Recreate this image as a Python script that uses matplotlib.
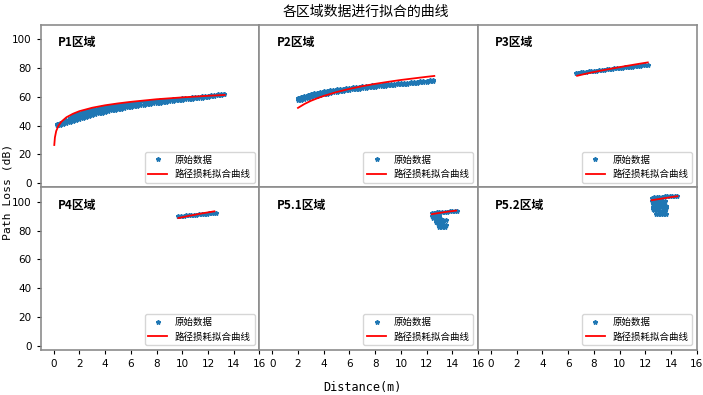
import matplotlib
matplotlib.use("Agg")
import matplotlib.pyplot as plt

cjk = ['Noto Sans CJK SC', 'DejaVu Sans']
mono = ['DejaVu Sans Mono', 'Noto Sans CJK SC']

# region names
regions = ['P1区域', 'P2区域', 'P3区域', 'P4区域', 'P5.1区域', 'P5.2区域']

# P1 measured data: upper and lower edge of the dense band, plus a middle row where it is wide
p1_dist = [0.25, 0.5, 0.75, 1.0, 1.25, 1.5, 1.75, 2.0, 2.25, 2.5, 2.75, 3.0, 3.25, 3.5, 3.75, 4.0,
           4.25, 4.5, 4.75, 5.0, 5.25, 5.5, 5.75, 6.0, 6.25, 6.5, 6.75, 7.0, 7.25, 7.5, 7.75, 8.0,
           8.25, 8.5, 8.75, 9.0, 9.25, 9.5, 9.75, 10.0, 10.25, 10.5, 10.75, 11.0, 11.25, 11.5, 11.75,
           12.0, 12.25, 12.5, 12.75, 13.0, 13.25]
p1_loss_hi = [41.2, 41.9, 42.8, 44.0, 45.4, 46.8, 47.9, 48.8, 49.5, 50.2, 50.8, 51.3, 51.8, 52.2, 52.6, 53.0,
              53.4, 53.7, 54.0, 54.3, 54.6, 54.9, 55.2, 55.4, 55.7, 55.9, 56.1, 56.4, 56.6, 56.8, 57.0, 57.3,
              57.5, 57.7, 57.9, 58.1, 58.3, 58.5, 58.8, 59.0, 59.2, 59.4, 59.6, 59.9, 60.1, 60.3, 60.6,
              60.9, 61.1, 61.4, 61.7, 61.9, 62.2]
p1_loss_lo = [40.4, 40.7, 41.1, 41.6, 42.2, 42.9, 43.7, 44.5, 45.3, 46.0, 46.7, 47.3, 47.9, 48.5, 49.0, 49.5,
              50.0, 50.5, 51.0, 51.4, 51.8, 52.2, 52.6, 53.0, 53.4, 53.8, 54.1, 54.5, 54.8, 55.1, 55.4, 55.7,
              56.0, 56.3, 56.6, 56.9, 57.2, 57.5, 57.8, 58.0, 58.3, 58.5, 58.8, 59.0, 59.3, 59.5, 59.8,
              60.0, 60.3, 60.6, 61.0, 61.4, 61.8]
p1_mid_dist = [1.0, 1.25, 1.5, 1.75, 2.0, 2.25, 2.5, 2.75, 3.0, 3.25, 3.5, 3.75, 4.0, 4.25, 4.5, 4.75,
               5.0, 5.25, 5.5, 5.75, 6.0]
p1_mid_loss = [42.8, 43.8, 44.8, 45.8, 46.6, 47.4, 48.1, 48.7, 49.3, 49.8, 50.3, 50.8, 51.2, 51.7, 52.1, 52.5,
               52.8, 53.2, 53.5, 53.9, 54.2]
p1_fit_dist = [0.05, 0.1, 0.2, 0.36, 0.6, 1.0, 1.5, 2, 3, 4, 5, 6, 8, 10, 12, 13.3]
p1_fit_loss = [26.5, 31.8, 36.2, 39.6, 42.7, 45.8, 48.2, 50.0, 52.4, 54.1, 55.4, 56.5, 58.3, 59.6, 60.7, 61.3]

# P2
p2_dist = [2.0, 2.25, 2.5, 2.75, 3.0, 3.25, 3.5, 3.75, 4.0, 4.25, 4.5, 4.75, 5.0, 5.25, 5.5, 5.75,
           6.0, 6.25, 6.5, 6.75, 7.0, 7.25, 7.5, 7.75, 8.0, 8.25, 8.5, 8.75, 9.0, 9.25, 9.5, 9.75,
           10.0, 10.25, 10.5, 10.75, 11.0, 11.25, 11.5, 11.75, 12.0, 12.25, 12.5]
p2_loss_hi = [59.5, 60.2, 60.8, 61.4, 61.9, 62.4, 62.9, 63.3, 63.7, 64.1, 64.5, 64.8, 65.1, 65.4, 65.7, 66.0,
              66.3, 66.6, 66.8, 67.1, 67.3, 67.5, 67.7, 67.9, 68.1, 68.3, 68.5, 68.7, 68.9, 69.0, 69.2, 69.4,
              69.5, 69.7, 69.9, 70.1, 70.3, 70.5, 70.8, 71.0, 71.3, 71.6, 71.9]
p2_loss_lo = [57.5, 58.1, 58.7, 59.3, 59.8, 60.3, 60.8, 61.3, 61.7, 62.1, 62.6, 63.0, 63.4, 63.8, 64.1, 64.5,
              64.8, 65.1, 65.4, 65.7, 66.0, 66.3, 66.6, 66.8, 67.1, 67.3, 67.5, 67.8, 68.0, 68.2, 68.4, 68.6,
              68.8, 69.0, 69.2, 69.4, 69.6, 69.8, 70.0, 70.3, 70.5, 70.8, 71.1]
p2_fit_dist = [2.0, 2.5, 3, 3.5, 4, 5, 6, 7, 8, 9, 10, 11, 12, 12.6]
p2_fit_loss = [52.3, 55.0, 57.2, 59.0, 60.6, 63.3, 65.5, 67.4, 69.0, 70.4, 71.7, 72.8, 73.9, 74.5]

# P3
p3_dist = [6.6, 6.8, 7.0, 7.2, 7.4, 7.6, 7.8, 8.0, 8.2, 8.4, 8.6, 8.8, 9.0, 9.2, 9.4, 9.6, 9.8, 10.0,
           10.2, 10.4, 10.6, 10.8, 11.0, 11.2, 11.4, 11.6, 11.8, 12.0, 12.2]
p3_loss = [76.4, 76.7, 76.9, 77.2, 77.4, 77.6, 77.8, 78.0, 78.2, 78.5, 78.7, 78.9, 79.1, 79.3, 79.5, 79.7, 79.9, 80.0,
           80.2, 80.4, 80.6, 80.8, 81.0, 81.2, 81.4, 81.6, 81.8, 82.0, 82.2]
p3_fit_dist = [6.7, 7.5, 8.5, 9.5, 10.5, 11.5, 12.2]
p3_fit_loss = [74.6, 76.3, 78.1, 79.8, 81.4, 82.9, 83.9]

# P4
p4_dist = [9.7, 9.9, 10.1, 10.3, 10.5, 10.7, 10.9, 11.1, 11.3, 11.5, 11.7, 11.9, 12.1, 12.3, 12.5, 12.6]
p4_loss = [90.0, 90.2, 90.3, 90.5, 90.6, 90.8, 91.0, 91.1, 91.3, 91.5, 91.6, 91.8, 91.9, 92.1, 92.2, 92.3]
p4_fit_dist = [9.7, 10.5, 11.5, 12.5]
p4_fit_loss = [88.7, 90.2, 91.9, 93.4]

# P5.1
p51_dist = [12.4, 12.6, 12.8, 13.0, 13.2, 13.4, 13.6, 13.8, 14.0, 14.2, 14.4,
            12.4, 12.6, 12.8, 13.0,
            12.5, 12.7, 12.9, 13.1, 13.3, 13.5,
            12.7, 12.9, 13.1, 13.3,
            12.9, 13.1, 13.3, 13.5,
            13.0, 13.2, 13.4]
p51_loss = [92.4, 92.5, 92.6, 92.8, 92.9, 93.0, 93.2, 93.3, 93.4, 93.6, 93.7,
            90.4, 90.2, 90.0, 89.8,
            88.4, 88.2, 88.0, 87.8, 87.6, 87.4,
            86.3, 86.1, 85.9, 85.7,
            84.4, 84.2, 84.0, 83.8,
            82.7, 82.5, 82.3]
p51_fit_dist = [12.4, 13.0, 13.6, 14.3]
p51_fit_loss = [91.4, 92.3, 93.1, 93.9]

# P5.2
p52_dist = [12.5, 12.7, 12.9, 13.1, 13.3, 13.5, 13.7, 13.9, 14.1, 14.3, 14.5,
            12.5, 12.7, 12.9, 13.1, 13.3, 13.5,
            12.6, 12.8, 13.0, 13.2, 13.4,
            12.6, 12.8, 13.0, 13.2, 13.4, 13.6,
            12.7, 12.9, 13.1, 13.3, 13.5,
            12.8, 13.0, 13.2, 13.4, 13.6,
            12.6, 12.6, 13.6]
p52_loss = [102.8, 103.0, 103.2, 103.4, 103.5, 103.7, 103.8, 104.0, 104.1, 104.2, 104.3,
            100.6, 100.6, 100.5, 100.5, 100.4, 100.4,
            98.5, 98.5, 98.4, 98.4, 98.3,
            96.2, 96.2, 96.1, 96.1, 96.0, 96.0,
            94.0, 94.0, 93.9, 93.9, 93.8,
            91.8, 91.8, 91.7, 91.7, 91.6,
            99.5, 95.2, 97.3]
p52_fit_dist = [12.5, 13.2, 13.9, 14.5]
p52_fit_loss = [101.1, 102.1, 103.1, 103.9]

data_sets = [
    ([(p1_dist, p1_loss_hi), (p1_mid_dist, p1_mid_loss), (p1_dist, p1_loss_lo)], p1_fit_dist, p1_fit_loss),
    ([(p2_dist, p2_loss_hi), (p2_dist, p2_loss_lo)], p2_fit_dist, p2_fit_loss),
    ([(p3_dist, p3_loss)], p3_fit_dist, p3_fit_loss),
    ([(p4_dist, p4_loss)], p4_fit_dist, p4_fit_loss),
    ([(p51_dist, p51_loss)], p51_fit_dist, p51_fit_loss),
    ([(p52_dist, p52_loss)], p52_fit_dist, p52_fit_loss),
]

fig, axes = plt.subplots(2, 3, figsize=(7.03, 3.95), dpi=100, sharex=True, sharey=True)
fig.subplots_adjust(left=0.058, right=0.991, top=0.937, bottom=0.114, wspace=0, hspace=0)

for i, ax in enumerate(axes.flat):
    tracks, fd, fl = data_sets[i]
    for k, (d, l) in enumerate(tracks):
        ax.plot(d, l, '*', color='#1f77b4', markersize=3.2, markeredgewidth=1.1,
                label='原始数据' if k == 0 else None)
    ax.plot(fd, fl, '-', color='red', linewidth=1.3, label='路径损耗拟合曲线')
    ax.text(0.078, 0.89, regions[i], transform=ax.transAxes, fontsize=8.5,
            family=cjk, fontweight='bold', va='center', ha='left')
    leg = ax.legend(loc='lower right', prop={'family': cjk, 'size': 6.8})
    ax.set_xlim(-1, 16)
    ax.set_ylim(-3, 110)
    ax.set_xticks(range(0, 17, 2))
    ax.set_yticks(range(0, 101, 20))
    ax.tick_params(labelsize=7.5, length=3)
    for s in ax.spines.values():
        s.set_color('0.55')
        s.set_linewidth(1.2)
    r, c = divmod(i, 3)
    if c > 0:
        ax.tick_params(left=False)
    if r == 0:
        ax.tick_params(bottom=False)

fig.text(0.52, 0.97, '各区域数据进行拟合的曲线', ha='center', va='center', fontsize=10, family=cjk)
fig.text(0.516, 0.02, 'Distance(m)', ha='center', va='center', fontsize=8.5, family=mono)
fig.text(0.011, 0.514, 'Path Loss (dB)', ha='center', va='center', rotation=90, fontsize=8.2, family=mono)

fig.savefig('out.png', dpi=100)
